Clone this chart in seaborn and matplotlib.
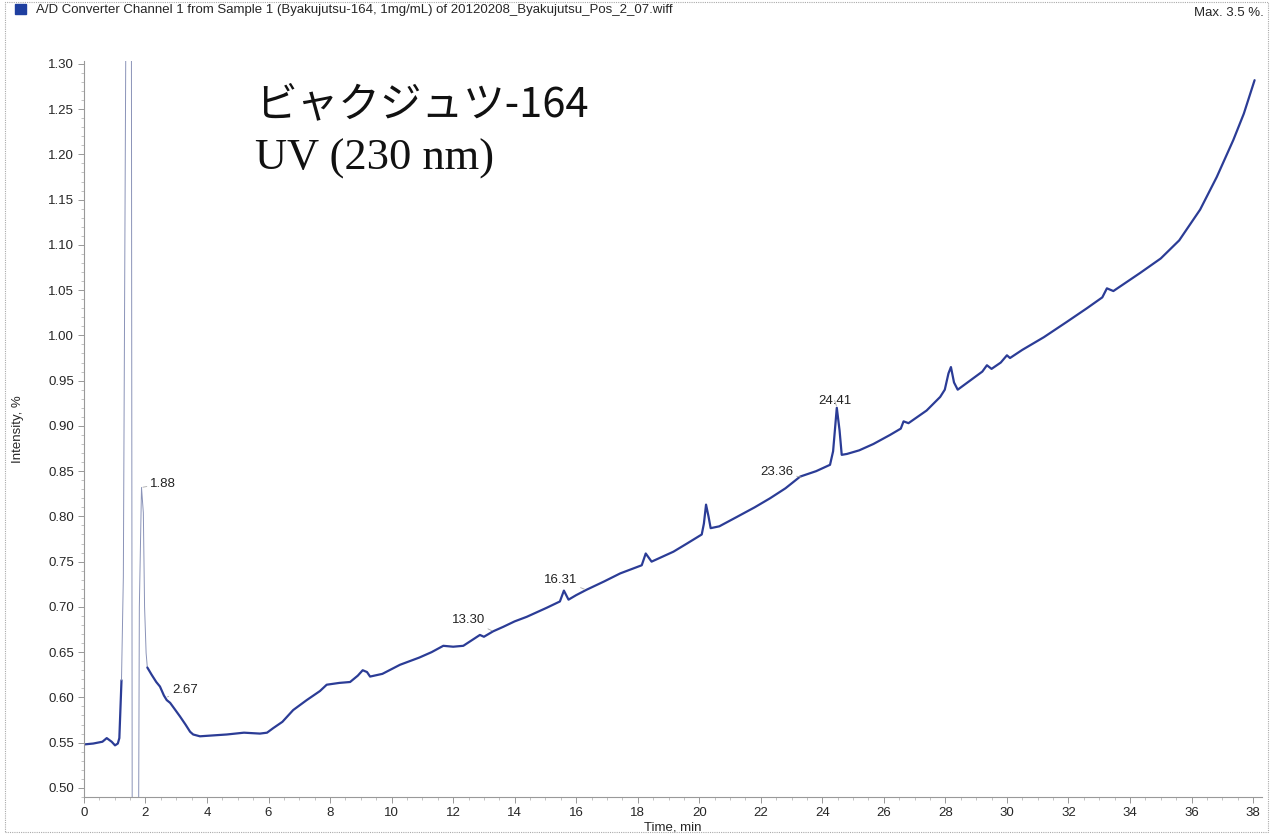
""" Cromatograma UV (230 nm) - Byakujutsu-164 """

import numpy as np
import matplotlib
matplotlib.use('Agg')
import matplotlib.pyplot as plt
import seaborn as sns
from matplotlib.patches import Rectangle

sns.set_style('white')
plt.rcParams['font.family'] = ['Liberation Sans', 'DejaVu Sans']

tempo = [
    0.0, 0.3, 0.6, 0.74, 0.9, 1.01, 1.1, 1.15, 1.22, 1.28,
    1.37, 1.54, 1.57, 1.77, 1.80, 1.87, 1.93, 1.97, 2.02, 2.06,
    2.2, 2.35, 2.47, 2.6, 2.69, 2.80, 2.95, 3.12, 3.3, 3.45,
    3.55, 3.77, 4.2, 4.64, 5.2, 5.72, 5.95, 6.15, 6.45, 6.8,
    7.24, 7.67, 7.89, 8.3, 8.65, 8.9, 9.06, 9.2, 9.3, 9.7,
    10.27, 10.9, 11.3, 11.68, 12.0, 12.33, 12.87, 13.0, 13.3, 13.63,
    14.0, 14.39, 15.04, 15.47, 15.6, 15.75, 16.0, 16.34, 16.9, 17.43,
    18.13, 18.26, 18.45, 19.16, 19.6, 20.08, 20.15, 20.22, 20.3, 20.37,
    20.65, 21.2, 21.8, 22.3, 22.8, 23.28, 23.8, 24.25, 24.35, 24.47,
    24.56, 24.63, 24.8, 25.2, 25.66, 26.2, 26.55, 26.64, 26.8, 27.39,
    27.83, 27.98, 28.1, 28.18, 28.28, 28.4, 28.8, 29.2, 29.35, 29.5,
    29.8, 30.0, 30.1, 30.5, 31.2, 31.95, 32.6, 33.1, 33.25, 33.46,
    34.33, 35.0, 35.6, 36.28, 36.82, 37.36, 37.7, 38.05,
]
intensidade = [
    0.548, 0.549, 0.551, 0.555, 0.551, 0.547, 0.549, 0.555, 0.619, 0.733,
    1.40, 1.40, 0.40, 0.40, 0.70, 0.832, 0.804, 0.700, 0.649, 0.633,
    0.625, 0.617, 0.612, 0.602, 0.597, 0.594, 0.587, 0.579, 0.570, 0.562,
    0.559, 0.557, 0.558, 0.559, 0.561, 0.560, 0.561, 0.566, 0.573, 0.586,
    0.597, 0.607, 0.614, 0.616, 0.617, 0.624, 0.630, 0.628, 0.623, 0.626,
    0.636, 0.644, 0.650, 0.657, 0.656, 0.657, 0.669, 0.667, 0.673, 0.678,
    0.684, 0.689, 0.699, 0.706, 0.718, 0.708, 0.713, 0.719, 0.728, 0.737,
    0.746, 0.759, 0.750, 0.761, 0.770, 0.780, 0.792, 0.813, 0.800, 0.787,
    0.789, 0.799, 0.810, 0.820, 0.831, 0.844, 0.850, 0.857, 0.872, 0.920,
    0.895, 0.868, 0.869, 0.873, 0.880, 0.890, 0.897, 0.905, 0.903, 0.917,
    0.932, 0.940, 0.958, 0.965, 0.948, 0.940, 0.950, 0.960, 0.967, 0.963,
    0.970, 0.978, 0.975, 0.984, 0.998, 1.015, 1.030, 1.042, 1.052, 1.049,
    1.069, 1.085, 1.105, 1.139, 1.175, 1.216, 1.245, 1.282,
]

# picos anotados
picos_rotulo = ['1.88', '2.67', '13.30', '16.31', '23.36', '24.41']
picos_tempo = [1.87, 2.67, 13.30, 16.31, 23.36, 24.47]
picos_valor = [0.832, 0.600, 0.673, 0.719, 0.843, 0.921]
# posição do texto de cada rótulo
rotulo_pos = [(2.15, 0.836), (2.86, 0.608), (11.96, 0.686),
              (14.95, 0.730), (21.98, 0.849), (23.86, 0.928)]

tempo = np.array(tempo)
intensidade = np.array(intensidade)

fig = plt.figure(figsize=(12.78, 8.38), dpi=100)
ax = fig.add_axes([0.0657, 0.049, 0.922, 0.878])

azul = '#2b3c96'
# trecho antes do pico de solvente, pico fora de escala, e resto
i1 = 8
i2 = 19
sns.lineplot(x=tempo[:i1 + 1], y=intensidade[:i1 + 1], ax=ax,
             color=azul, lw=1.6, estimator=None, sort=False)
sns.lineplot(x=tempo[i1:i2 + 1], y=intensidade[i1:i2 + 1], ax=ax,
             color='#8a93b8', lw=0.7, estimator=None, sort=False)
sns.lineplot(x=tempo[i2:], y=intensidade[i2:], ax=ax,
             color=azul, lw=1.6, estimator=None, sort=False)

for rot, t, v, (tx, ty) in zip(picos_rotulo, picos_tempo, picos_valor, rotulo_pos):
    ax.annotate(rot, xy=(t, v), xytext=(tx, ty), fontsize=9.5,
                ha='left', va='center', color='#222222',
                arrowprops=dict(arrowstyle='-', color='#aaaaaa', lw=0.6,
                                shrinkA=0, shrinkB=1))

ax.text(5.56, 1.255, 'ビャクジュツ-164', fontsize=30, va='center', ha='left',
        family=['Noto Sans CJK JP', 'DejaVu Sans'], color='#111111')
ax.text(5.56, 1.195, 'UV (230 nm)', fontsize=32, va='center', ha='left',
        family=['Liberation Serif', 'DejaVu Serif'], color='#111111')

ax.set_xlim(0, 38.3)
ax.set_ylim(0.49, 1.303)
ax.set_xticks(np.arange(0, 39, 2))
ax.set_yticks(np.arange(0.50, 1.31, 0.05))
ax.set_yticklabels([f'{v:.2f}' for v in np.arange(0.50, 1.31, 0.05)])
ax.tick_params(axis='both', labelsize=9.5, length=4, width=0.6,
               color='#888888', direction='out', pad=3,
               bottom=True, left=True)
ax.minorticks_on()
ax.tick_params(which='minor', length=2, width=0.5, color='#aaaaaa',
               bottom=True, left=True)

for lado in ['top', 'right']:
    ax.spines[lado].set_visible(False)
for lado in ['left', 'bottom']:
    ax.spines[lado].set_color('#999999')
    ax.spines[lado].set_linewidth(0.8)
    ax.spines[lado].set_linestyle((0, (1, 1)))

ax.set_xlabel('Time, min', fontsize=9.5, labelpad=1)
ax.xaxis.set_label_coords(0.5, -0.033)
ax.set_ylabel('Intensity, %', fontsize=9.5)
ax.yaxis.set_label_coords(-0.051, 0.5)

# cabeçalho
fig.patches.append(Rectangle((0.012, 0.9835), 0.008, 0.012, transform=fig.transFigure,
                             color='#1f3fa0', zorder=5))
fig.text(0.028, 0.988, 'A/D Converter Channel 1 from Sample 1 (Byakujutsu-164, 1mg/mL) '
         'of 20120208_Byakujutsu_Pos_2_07.wiff', fontsize=9.5, va='center', ha='left')
fig.text(0.989, 0.985, 'Max. 3.5 %.', fontsize=9.5, va='center', ha='right')

# moldura externa
fig.patches.append(Rectangle((0.004, 0.007), 0.988, 0.991, transform=fig.transFigure,
                             fill=False, edgecolor='#aaaaaa', lw=0.8, linestyle=(0, (1, 1))))

plt.savefig('out.png', dpi=100)
